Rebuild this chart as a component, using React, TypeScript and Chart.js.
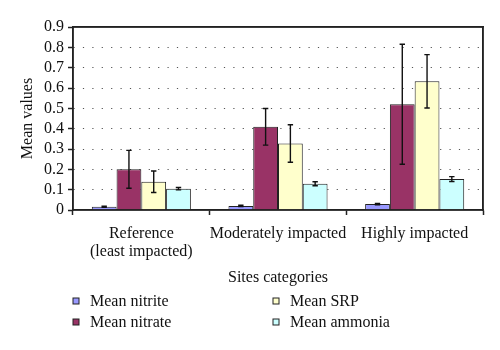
import React, { useEffect, useRef } from 'react';
import { Chart, registerables } from 'chart.js';

Chart.register(...registerables);

const categories: (string | string[])[] = [['Reference', '(least impacted)'], 'Moderately impacted', 'Highly impacted'];
const seriesNames = ['Mean nitrite', 'Mean nitrate', 'Mean SRP', 'Mean ammonia'];
const nitrite = [0.016, 0.02, 0.029];
const nitriteErr = [0.003, 0.003, 0.003];
const nitrate = [0.2, 0.409, 0.52];
const nitrateErr = [0.093, 0.09, 0.295];
const srp = [0.139, 0.327, 0.633];
const srpErr = [0.053, 0.092, 0.131];
const ammonia = [0.105, 0.129, 0.152];
const ammoniaErr = [0.006, 0.01, 0.012];
const yMin = 0;
const yMax = 0.9;
const yStep = 0.1;

const colors = ['#9999FF', '#993366', '#FFFFCC', '#CCFFFF'];
const FONT = "'Liberation Serif', 'DejaVu Serif', serif";
const FS = 16;

const overlayPlugin = {
  id: 'overlayMarks',
  afterDatasetsDraw(chart: any) {
    const ctx = chart.ctx;
    const yScale = chart.scales.y;
    ctx.save();
    ctx.setLineDash([]);
    ctx.strokeStyle = '#111';
    ctx.lineWidth = 1.4;
    chart.data.datasets.forEach((ds: any, i: number) => {
      const meta = chart.getDatasetMeta(i);
      meta.data.forEach((el: any, j: number) => {
        const v = ds.data[j];
        const e = ds.errors[j];
        const yt = yScale.getPixelForValue(v + e);
        const yb = yScale.getPixelForValue(Math.max(0, v - e));
        const x = el.x;
        const cap = 2.7;
        ctx.beginPath();
        ctx.moveTo(x, yt);
        ctx.lineTo(x, yb);
        ctx.moveTo(x - cap, yt);
        ctx.lineTo(x + cap, yt);
        ctx.moveTo(x - cap, yb);
        ctx.lineTo(x + cap, yb);
        ctx.stroke();
      });
    });
    ctx.restore();
  },
  afterDraw(chart: any) {
    const ctx = chart.ctx;
    const area = chart.chartArea;
    ctx.save();
    ctx.setLineDash([]);
    ctx.strokeStyle = '#222';
    ctx.lineWidth = 1.5;
    ctx.strokeRect(area.left, area.top, area.right - area.left, area.bottom - area.top);
    const order = [[0, 2], [1, 3]];
    const colX = [76, 276];
    const rowY = [301, 322];
    ctx.font = `${FS}px ${FONT}`;
    ctx.textBaseline = 'middle';
    ctx.textAlign = 'left';
    order.forEach((row, r) => {
      row.forEach((di, c) => {
        const ds = chart.data.datasets[di];
        const x = colX[c];
        const y = rowY[r];
        ctx.fillStyle = ds.backgroundColor;
        ctx.fillRect(x - 3, y - 3, 6, 6);
        ctx.strokeStyle = '#222';
        ctx.lineWidth = 1;
        ctx.strokeRect(x - 3, y - 3, 6, 6);
        ctx.fillStyle = '#111';
        ctx.fillText(ds.label, x + 14, y + 1);
      });
    });
    ctx.restore();
  },
};

export default function App() {
  const ref = useRef<HTMLCanvasElement>(null);
  useEffect(() => {
    const values = [nitrite, nitrate, srp, ammonia];
    const errs = [nitriteErr, nitrateErr, srpErr, ammoniaErr];
    const chart = new Chart(ref.current as HTMLCanvasElement, {
      type: 'bar',
      data: {
        labels: categories,
        datasets: values.map((d, i) => ({
          label: seriesNames[i],
          data: d,
          errors: errs[i],
          backgroundColor: colors[i],
          borderColor: '#222',
          borderWidth: 1,
          categoryPercentage: 0.725,
          barPercentage: 1.0,
        })) as any,
      },
      options: {
        animation: false,
        responsive: false,
        maintainAspectRatio: false,
        layout: { padding: { left: 18, right: 17, top: 27, bottom: 63 } },
        plugins: { legend: { display: false }, tooltip: { enabled: false } },
        scales: {
          x: {
            grid: {
              offset: true,
              drawOnChartArea: false,
              drawTicks: true,
              tickLength: 5,
              tickColor: '#222',
              tickWidth: 1.5,
            },
            border: { display: true, color: '#222', width: 1.5 },
            ticks: { color: '#111', font: { family: FONT, size: FS, lineHeight: 1.1 }, padding: 10, maxRotation: 0, autoSkip: false },
            title: { display: true, text: 'Sites categories', color: '#111', font: { family: FONT, size: FS }, padding: { top: 4, bottom: 0 } },
            afterFit(scale: any) { scale.height = 77; },
          },
          y: {
            min: yMin,
            max: yMax,
            ticks: { stepSize: yStep, color: '#111', font: { family: FONT, size: FS }, padding: 4, autoSkip: false },
            grid: {
              color: (c: any) => (c.tick && (c.tick.value === yMin || Math.abs(c.tick.value - yMax) < 1e-9) ? 'rgba(0,0,0,0)' : '#555'),
              lineWidth: 1,
              tickColor: '#222',
              tickLength: 5,
              tickWidth: 1.5,
              tickBorderDash: [],
            },
            border: { display: true, color: '#222', width: 1.5, dash: [1.2, 8.2] },
            title: { display: true, text: 'Mean values', color: '#111', font: { family: FONT, size: FS }, padding: 0 },
            afterFit(scale: any) { scale.width = 55; },
          },
          xTop: {
            position: 'top',
            type: 'category',
            labels: categories as any,
            display: true,
            grid: { display: false, drawTicks: false },
            ticks: { display: false },
            border: { display: true, color: '#222', width: 1.5 },
            afterFit(scale: any) { scale.height = 0; },
          },
          yRight: {
            position: 'right',
            type: 'linear',
            min: yMin,
            max: yMax,
            display: true,
            grid: { display: false, drawTicks: false },
            ticks: { display: false },
            border: { display: true, color: '#222', width: 1.5 },
            afterFit(scale: any) { scale.width = 0; },
          },
        } as any,
      },
      plugins: [overlayPlugin],
    });
    return () => chart.destroy();
  }, []);
  return (
    <div style={{ position: 'fixed', left: 0, top: 0, width: 500, height: 350, background: '#fff' }}>
      <canvas ref={ref} width={500} height={350} style={{ width: 500, height: 350 }} />
    </div>
  );
}
